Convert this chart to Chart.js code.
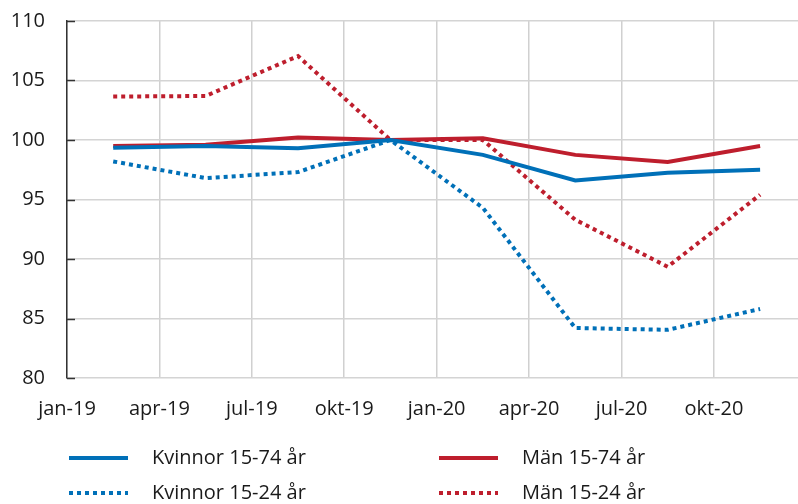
<!DOCTYPE html>
<html lang="sv">
<head>
<meta charset="utf-8" />
<title>Sysselsatta kvinnor och män, index</title>
<script src="https://cdn.jsdelivr.net/npm/chart.js@4.4.1/dist/chart.umd.min.js"></script>
<style>
  html, body { margin: 0; padding: 0; background: #fff; }
  #wrap { position: relative; width: 798px; height: 504px; }
</style>
</head>
<body>
<div id="wrap"><canvas id="chart"></canvas></div>
<script>
// Quarterly index, Q4 2019 = 100. One value per quarter, plotted mid-quarter.
const tickLabels = ['jan-19', 'apr-19', 'jul-19', 'okt-19', 'jan-20', 'apr-20', 'jul-20', 'okt-20'];
const kvinnor1574 = [99.35, 99.5, 99.3, 100, 98.75, 96.6, 97.25, 97.5];
const man1574 = [99.5, 99.6, 100.2, 100, 100.15, 98.75, 98.15, 99.5];
const kvinnor1524 = [98.2, 96.8, 97.3, 100, 94.3, 84.2, 84.05, 85.8];
const man1524 = [103.65, 103.7, 107.05, 100, 100.0, 93.3, 89.35, 95.4];

const BLUE = '#0070b8';
const RED = '#be1e2d';
const FONT = "'Open Sans', sans-serif";
const DOTS = [4, 4];

function points(values) {
  return values.map((v, i) => ({ x: i + 0.5, y: v }));
}

function series(label, values, color, dotted) {
  return {
    label,
    data: points(values),
    borderColor: color,
    backgroundColor: color,
    borderWidth: 4,
    borderDash: dotted ? DOTS : [],
    borderCapStyle: 'butt',
    pointRadius: 0,
    tension: 0,
    fill: false
  };
}

// legend in two columns under the axis, plus small inward ticks on the y axis
const extras = {
  id: 'extras',
  afterDraw(chart) {
    const ctx = chart.ctx;
    const y = chart.scales.y;
    const left = chart.chartArea.left;
    ctx.save();
    ctx.strokeStyle = '#333';
    ctx.lineWidth = 1.5;
    y.ticks.forEach(t => {
      const py = Math.round(y.getPixelForValue(t.value)) + 0.5;
      ctx.beginPath();
      ctx.moveTo(left, py);
      ctx.lineTo(left + 8, py);
      ctx.stroke();
    });

    const cols = [69, 439];
    const rows = [458, 493];
    ctx.font = '20px ' + FONT;
    ctx.fillStyle = '#1a1a1a';
    ctx.textBaseline = 'middle';
    chart.data.datasets.forEach((ds, i) => {
      const x = cols[i % 2];
      const ry = rows[Math.floor(i / 2)];
      ctx.strokeStyle = ds.borderColor;
      ctx.lineWidth = 4;
      ctx.lineCap = 'butt';
      ctx.setLineDash(ds.borderDash);
      ctx.beginPath();
      ctx.moveTo(x, ry);
      ctx.lineTo(x + 59, ry);
      ctx.stroke();
      ctx.setLineDash([]);
      ctx.fillText(ds.label, x + 83, ry);
    });
    ctx.restore();
  }
};

new Chart(document.getElementById('chart'), {
  type: 'line',
  data: {
    datasets: [
      series('Kvinnor 15-74 år', kvinnor1574, BLUE, false),
      series('Män 15-74 år', man1574, RED, false),
      series('Kvinnor 15-24 år', kvinnor1524, BLUE, true),
      series('Män 15-24 år', man1524, RED, true)
    ]
  },
  options: {
    responsive: true,
    maintainAspectRatio: false,
    animation: false,
    layout: { padding: { top: 21, right: 0, left: 0, bottom: 0 } },
    plugins: { legend: { display: false }, tooltip: { enabled: false } },
    scales: {
      x: {
        type: 'linear',
        min: 0,
        max: 7.91,
        afterBuildTicks: s => { s.ticks = s.ticks.filter(t => Number.isInteger(t.value)); },
        afterFit: s => { s.height = 126; },
        ticks: {
          stepSize: 1,
          autoSkip: false,
          maxRotation: 0,
          padding: 19,
          color: '#1a1a1a',
          font: { family: FONT, size: 20 },
          callback: v => tickLabels[v]
        },
        grid: { color: '#d0d0d0', lineWidth: 1.5, drawTicks: false },
        border: { display: false }
      },
      y: {
        min: 80,
        max: 110,
        afterFit: s => { s.width = 67; s.paddingTop = 0; s.paddingBottom = 0; },
        ticks: {
          stepSize: 5,
          padding: 22,
          color: '#1a1a1a',
          font: { family: FONT, size: 20 }
        },
        grid: { color: '#d4d4d4', lineWidth: 1.5, drawTicks: false },
        border: { display: true, color: '#333', width: 1.5 }
      }
    }
  },
  plugins: [extras]
});
</script>
</body>
</html>
